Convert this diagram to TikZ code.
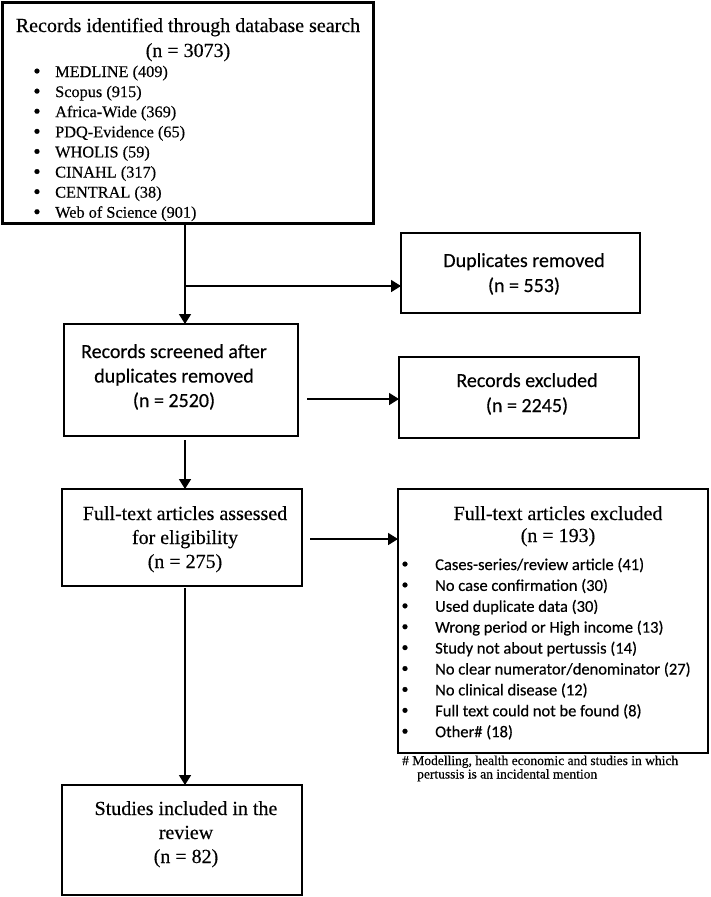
\documentclass[tikz,border=0pt]{standalone}
\usepackage{fontspec}
\setmainfont[FakeBold=0.35]{Liberation Serif}
\newfontfamily\calib[FakeBold=0.35]{Carlito}
\usetikzlibrary{arrows.meta}
\begin{document}
\begin{tikzpicture}[x=1pt,y=-1pt,
  box/.style={draw, line width=2pt, inner sep=0pt, outer sep=0pt},
  arr/.style={line width=1.6pt, -{Triangle[length=10pt,width=12pt]}},
  ttl/.style={font=\fontsize{20}{24}\selectfont, anchor=base, inner sep=0pt},
  cttl/.style={font=\calib\fontsize{20}{24}\selectfont, anchor=base, inner sep=0pt},
  item/.style={font=\fontsize{16.3}{19}\selectfont, anchor=base west, inner sep=0pt},
  citem/.style={font=\calib\fontsize{16.5}{20}\selectfont, anchor=base west, inner sep=0pt},
  bul/.style={font=\fontsize{21}{22}\selectfont, anchor=base, inner sep=0pt},
  note/.style={font=\fontsize{13.5}{15}\selectfont, anchor=base west, inner sep=0pt}]
\useasboundingbox (0,0) rectangle (710,897);

% boxes
\node[box, line width=3pt, minimum width=371pt, minimum height=221pt] (rid) at (187.5,112.5) {};
\node[box, minimum width=239pt, minimum height=80pt] (dup) at (520.5,273) {};
\node[box, minimum width=234pt, minimum height=112pt] (scr) at (181,380) {};
\node[box, minimum width=240pt, minimum height=81pt] (exc) at (519,397.5) {};
\node[box, minimum width=240pt, minimum height=97pt] (fta) at (182,537.5) {};
\node[box, minimum width=310pt, minimum height=264pt] (ftx) at (553,621) {};
\node[box, minimum width=240pt, minimum height=110pt] (inc) at (182,840) {};

% box 1 text
\node[ttl] (rid1) at (188,32) {Records identified through database search};
\node[ttl] (rid2) at (188,57) {(n = 3073)};
\foreach \t [count=\i from 0] in {MEDLINE (409), Scopus (915), Africa-Wide (369), PDQ-Evidence (65), WHOLIS (59), CINAHL (317), CENTRAL (38), Web of Science (901)} {
  \node[bul] (ridb\i) at (37,{78+20.1*\i}) {•};
  \node[item] (ridi\i) at (55,{77+20.1*\i}) {\t};
}

% duplicates
\node[cttl] (dup1) at (524,267) {Duplicates removed};
\node[cttl] (dup2) at (524,292) {(n = 553)};

% screened
\node[cttl] (scr1) at (174,358) {Records screened after};
\node[cttl] (scr2) at (174,382.5) {duplicates removed};
\node[cttl] (scr3) at (174,407) {(n = 2520)};

% excluded
\node[cttl] (exc1) at (527,387) {Records excluded};
\node[cttl] (exc2) at (527,412) {(n = 2245)};

% full text assessed
\node[ttl] (fta1) at (185,520) {Full-text articles assessed};
\node[ttl] (fta2) at (185,544) {for eligibility};
\node[ttl] (fta3) at (185,568) {(n = 275)};

% full text excluded
\node[ttl] (ftx1) at (558,520) {Full-text articles excluded};
\node[ttl] (ftx2) at (558,542) {(n = 193)};
\foreach \t [count=\i from 0] in {Cases-series/review article (41), No case confirmation (30), Used duplicate data (30), Wrong period or High income (13), Study not about pertussis (14), No clear numerator/denominator (27), No clinical disease (12), Full text could not be found (8), Other\# (18)} {
  \node[bul] (ftxb\i) at (405,{571+20.9*\i}) {•};
  \node[citem] (ftxi\i) at (435,{570+20.9*\i}) {\t};
}
\node[note] (nt1) at (402,765) {\# Modelling, health economic and studies in which};
\node[note] (nt2) at (417,778.5) {pertussis is an incidental mention};

% included
\node[ttl] (inc1) at (186,815) {Studies included in the};
\node[ttl] (inc2) at (186,839) {review};
\node[ttl] (inc3) at (186,863) {(n = 82)};

% connectors
\coordinate (j1) at (185,286);
\coordinate (h2) at (0,399);
\coordinate (h3) at (0,539);
\draw[line width=1.6pt] (j1 |- rid.south) -- (j1);
\draw[arr] (j1) -- (j1 |- scr.north);
\draw[arr] (j1) -- (dup.west |- j1);
\draw[arr, shorten <=9pt] (scr.east |- h2) -- (exc.west |- h2);
\draw[arr, shorten <=4pt] (j1 |- scr.south) -- (j1 |- fta.north);
\draw[arr, shorten <=8pt] (fta.east |- h3) -- (ftx.west |- h3);
\draw[arr, shorten <=2pt] (j1 |- fta.south) -- (j1 |- inc.north);
\end{tikzpicture}
\end{document}
